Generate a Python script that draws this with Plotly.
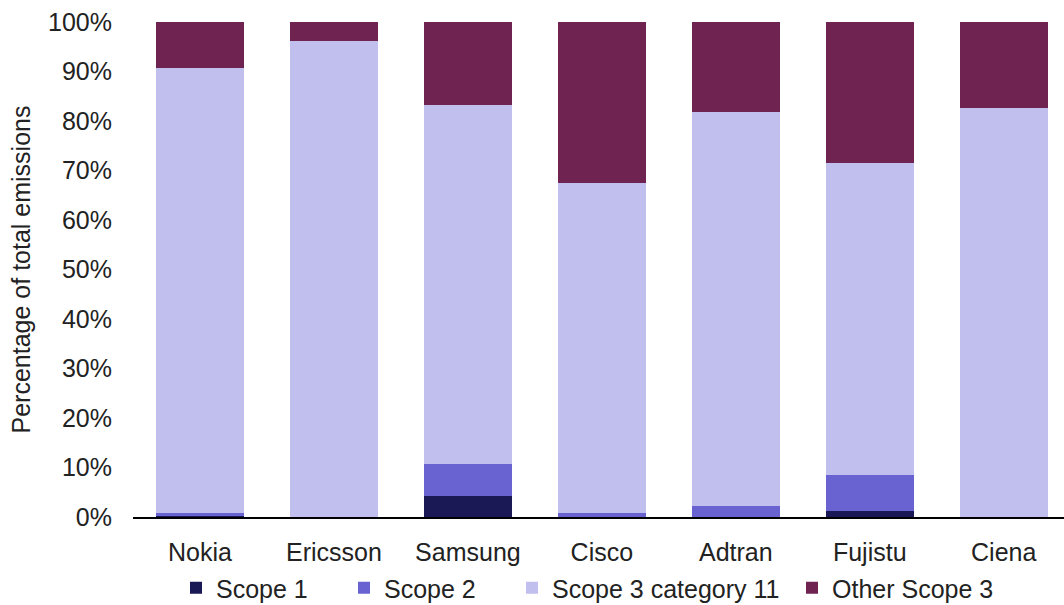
import plotly.graph_objects as go

companies = ["Nokia", "Ericsson", "Samsung", "Cisco", "Adtran", "Fujistu", "Ciena"]
scope1 = [0.2, 0.0, 4.2, 0.1, 0.1, 1.2, 0.0]
scope2 = [0.7, 0.0, 6.5, 0.8, 2.1, 7.3, 0.0]
scope3_cat11 = [89.8, 96.2, 72.5, 66.6, 79.6, 63.0, 82.6]
other_scope3 = [9.3, 3.8, 16.8, 32.5, 18.2, 28.5, 17.4]

series_names = ["Scope 1", "Scope 2", "Scope 3 category 11", "Other Scope 3"]
series_values = [scope1, scope2, scope3_cat11, other_scope3]
colors = ["#1b1856", "#6863d1", "#c1bfee", "#6f2350"]
legend_ids = ["legend", "legend2", "legend3", "legend4"]
legend_marker_x = [196, 364, 532, 812]

FONT = "Liberation Sans, Arial, sans-serif"
FS = 25

fig = go.Figure()
for name, vals, c, lg in zip(series_names, series_values, colors, legend_ids):
    fig.add_trace(go.Bar(x=companies, y=vals, name=name, legend=lg,
                         marker=dict(color=c, line=dict(width=0))))

W, H = 1064, 605
legends = {}
for lg, mx in zip(legend_ids, legend_marker_x):
    legends[lg] = dict(orientation="h", xref="container", yref="container",
                       x=(mx - 20) / W, xanchor="left", y=1 - 588 / H, yanchor="middle",
                       font=dict(family=FONT, size=FS, color="#222222"),
                       bgcolor="rgba(0,0,0,0)", borderwidth=0)

fig.update_layout(
    barmode="stack",
    bargap=0.34,
    width=W, height=H,
    margin=dict(l=133, r=0, t=22, b=88),
    paper_bgcolor="white", plot_bgcolor="white",
    font=dict(family=FONT, size=FS, color="#222222"),
    showlegend=True,
    xaxis=dict(range=[-0.5, 6.45], showline=True, linecolor="black", linewidth=2,
               ticks="", showgrid=False, tickfont=dict(size=FS), automargin=False,
               ticklabelstandoff=12),
    yaxis=dict(range=[0, 100], tickvals=list(range(0, 101, 10)),
               ticktext=[f"{v}%" for v in range(0, 101, 10)], showgrid=False,
               zeroline=False, ticks="", tickfont=dict(size=FS), automargin=False,
               ticklabelstandoff=20,
               title=dict(text="Percentage of total emissions", font=dict(size=FS), standoff=10)),
    **legends,
)

fig.write_html("out.html")
